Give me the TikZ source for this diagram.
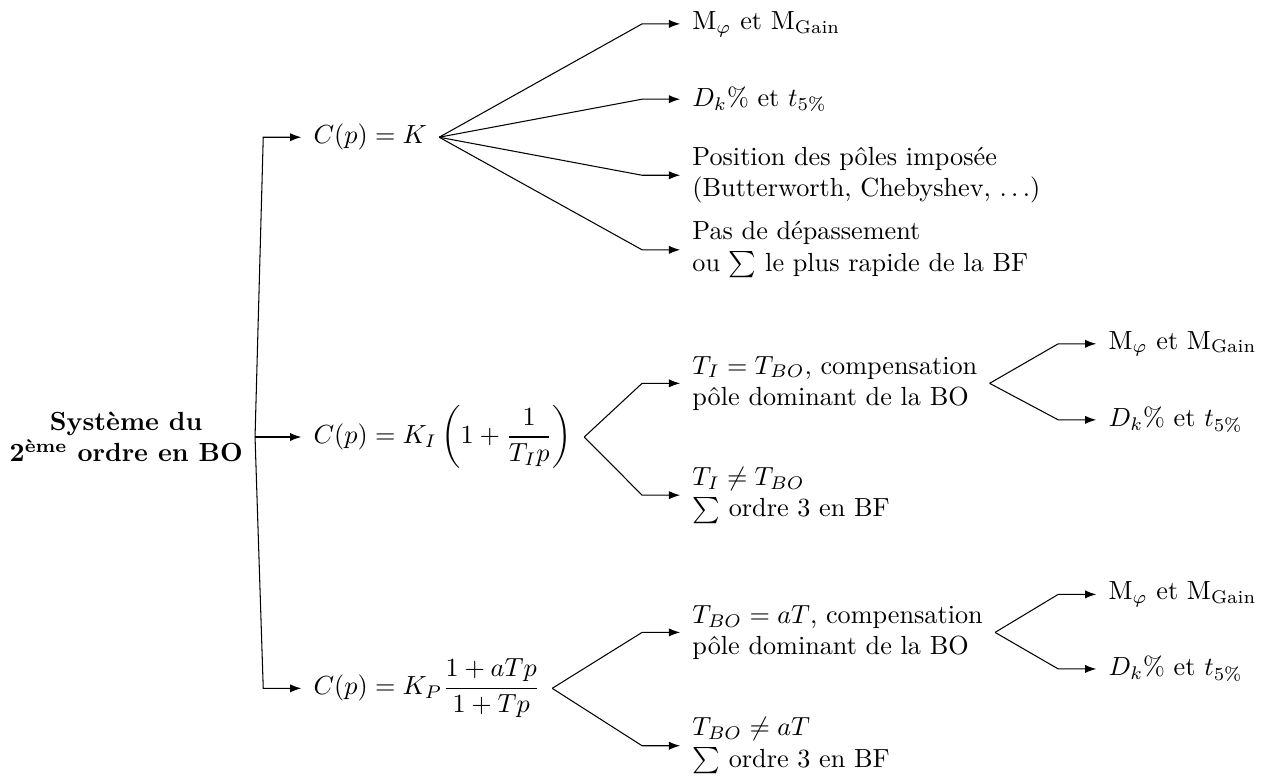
\documentclass[tikz,border=0pt]{standalone}
\usepackage{amsmath}
\usepackage{amssymb}
\usepackage{fontspec}
\usepackage{tikz}
\usetikzlibrary{arrows.meta, positioning}
\tikzset{
	rootbox/.style={anchor=east, align=center, inner xsep=4.5pt, inner ysep=2pt, font=\bfseries},
	branch/.style={anchor=west, align=left, inner xsep=4.5pt, inner ysep=2pt},
	fanarrow/.style={-{Latex[length=1.5mm, width=1.1mm]}},
}

\begin{document}
\begin{tikzpicture}
	\useasboundingbox (0,0) rectangle (17.03,-10.41);
	% root and the three correctors
	\node[rootbox] (root) at (3.42,-5.86) {Système du\\2\textsuperscript{ème} ordre en BO};
	\node[branch] (cK) at (4.04,-1.84) {$C(p) = K$};
	\node[branch] (cPI) at (4.04,-5.86) {$C(p) = K_I\left(1+\dfrac{1}{T_I p}\right)$};
	\node[branch] (cAv) at (4.04,-9.23) {$C(p) = K_P\dfrac{1+aTp}{1+Tp}$};
	% proportional
	\node[branch] (kMarg) at (9.12,-0.32) {M$_\varphi$ et M$_\text{Gain}$};
	\node[branch] (kDep) at (9.12,-1.33) {$D_k\%$ et $t_{5\%}$};
	\node[branch] (kPole) at (9.12,-2.35) {Position des pôles imposée\\(Butterworth, Chebyshev, $\ldots$)};
	\node[branch] (kRap) at (9.12,-3.35) {Pas de dépassement\\ou $\sum$ le plus rapide de la BF};
	% PI
	\node[branch] (iComp) at (9.12,-5.14) {$T_I = T_{BO}$, compensation\\pôle dominant de la BO};
	\node[branch] (iOrd) at (9.12,-6.64) {$T_I \neq T_{BO}$\\$\sum$ ordre 3 en BF};
	\node[branch] (iMarg) at (14.70,-4.61) {M$_\varphi$ et M$_\text{Gain}$};
	\node[branch] (iDep) at (14.70,-5.63) {$D_k\%$ et $t_{5\%}$};
	% phase lead
	\node[branch] (aComp) at (9.12,-8.48) {$T_{BO} = aT$, compensation\\pôle dominant de la BO};
	\node[branch] (aOrd) at (9.12,-10.00) {$T_{BO} \neq aT$\\$\sum$ ordre 3 en BF};
	\node[branch] (aMarg) at (14.70,-7.97) {M$_\varphi$ et M$_\text{Gain}$};
	\node[branch] (aDep) at (14.70,-8.97) {$D_k\%$ et $t_{5\%}$};
	% connectors
	\foreach \p/\c in {root/cK, root/cPI, root/cAv,
		cK/kMarg, cK/kDep, cK/kPole, cK/kRap,
		cPI/iComp, cPI/iOrd, iComp/iMarg, iComp/iDep,
		cAv/aComp, cAv/aOrd, aComp/aMarg, aComp/aDep} {
		\draw[fanarrow] (\p.east) -- ([xshift=-0.51cm]\c.west) -- (\c.west);
	}
\end{tikzpicture}
\end{document}
